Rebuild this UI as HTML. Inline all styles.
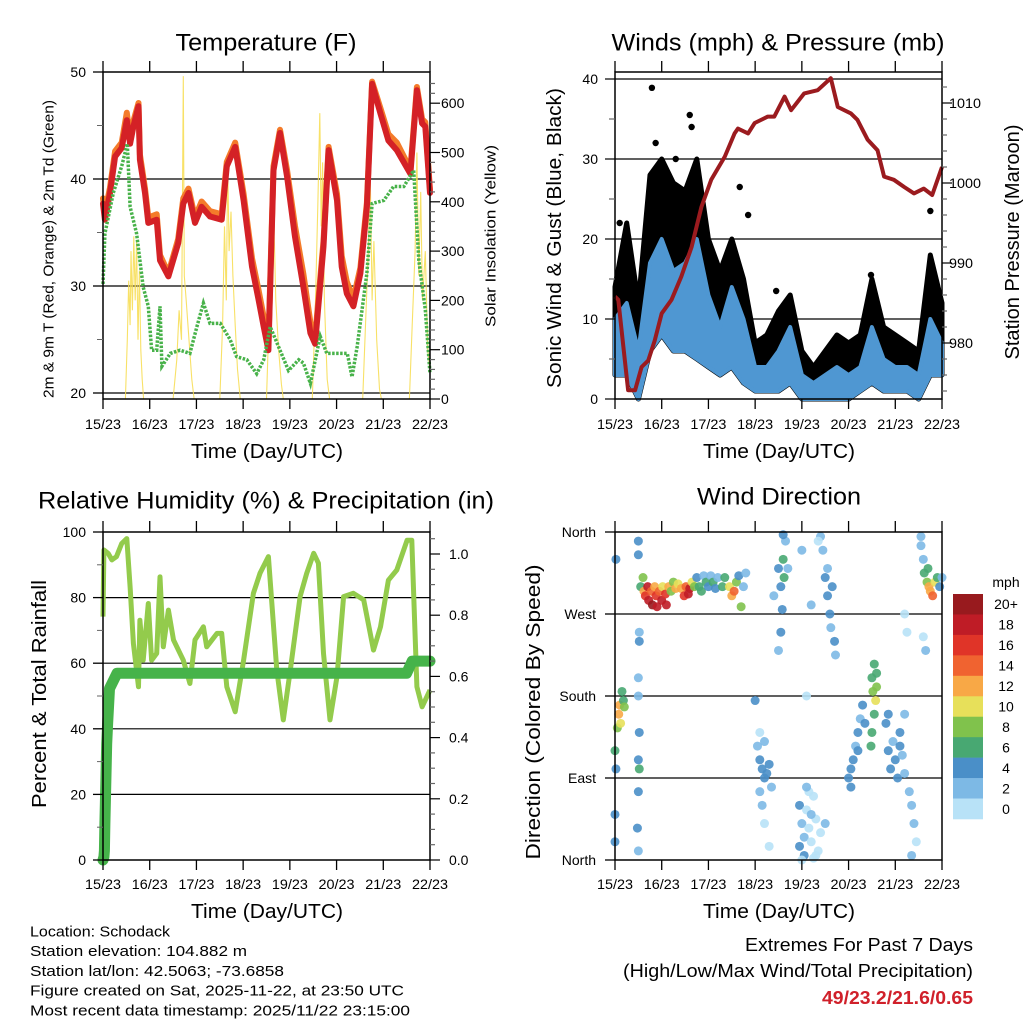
<!DOCTYPE html>
<html><head><meta charset="utf-8"><style>
html,body{margin:0;padding:0;background:#fff}
svg{display:block;font-family:"Liberation Sans",Arial,sans-serif}
</style></head><body>
<svg id="chart" width="1024" height="1024" viewBox="0 0 1024 1024" xmlns="http://www.w3.org/2000/svg"></svg>
<script>
// ---------- DATA ----------
const tempT = [0,.04,.15,.26,.40,.51,.58,.65,.76,.79,.90,.97,1.15,1.22,1.40,1.61,1.72,1.83,1.97,2.11,2.29,2.54,2.65,2.83,3.01,3.19,3.33,3.44,3.54,3.65,3.79,3.94,4.11,4.29,4.44,4.54,4.72,4.83,5.01,5.11,5.22,5.36,5.51,5.65,5.76,5.94,6.11,6.29,6.58,6.72,6.83,6.90,7.0];
const temp2m = [37.7,36.2,38.7,42.1,42.9,45.5,43.3,44.9,46.8,41.8,38.7,35.9,36.2,32.4,30.9,34.0,37.7,38.7,35.9,37.4,36.5,36.2,41.2,43.0,38.0,31.8,28.7,26.2,24.0,40.8,44.3,40.2,34.6,29.9,25.6,24.6,33.7,42.7,38.0,31.8,29.3,28.1,31.2,37.4,48.9,46.1,43.6,42.7,40.5,48.3,45.2,44.9,38.7];
const temp9m = [38.2,36.8,39.2,42.6,43.4,46.2,43.8,45.4,47.1,42.3,39.1,36.4,36.7,32.9,31.2,34.4,38.2,39.1,36.4,37.9,37.0,36.7,41.6,43.4,38.6,32.6,29.6,27.1,24.6,41.2,44.6,40.8,35.6,31.1,26.6,25.2,34.2,43.0,38.6,32.8,30.4,28.8,31.7,37.8,49.1,46.6,44.2,43.4,40.9,48.6,45.6,45.3,39.0];
const tdT = [0,.04,.22,.40,.52,.58,.72,.86,.97,1.04,1.15,1.22,1.26,1.44,1.65,1.86,2.01,2.15,2.29,2.51,2.72,2.86,3.08,3.29,3.44,3.58,3.79,3.97,4.19,4.29,4.44,4.65,4.79,5.01,5.23,5.33,5.44,5.65,5.76,6.01,6.22,6.44,6.65,6.76,6.90,7.0];
const tdVal = [30.2,34.9,38.7,41.2,43.3,37.4,34.9,29.9,28.1,24.0,24.0,28.1,22.5,23.7,24.0,23.7,26.2,28.4,26.5,26.5,25.0,23.4,23.1,21.8,23.1,26.2,24.0,22.1,23.1,22.8,20.9,25.3,23.7,23.7,23.7,21.5,24.3,31.2,37.7,38.0,39.3,39.3,40.8,32.4,27.8,21.8];
const solarT = [0,.48,.52,.55,.58,.60,.63,.66,.69,.72,.75,.78,.81,.84,.87,1.50,1.58,1.63,1.68,1.72,1.74,1.78,1.84,1.90,1.95,2.50,2.56,2.60,2.64,2.67,2.70,2.74,2.78,2.83,2.88,2.94,3.50,3.55,3.59,3.62,3.66,3.70,3.76,3.82,3.86,4.48,4.55,4.60,4.64,4.67,4.70,4.74,4.80,4.85,5.56,5.62,5.68,5.72,5.76,5.80,5.86,5.92,5.96,6.56,6.62,6.68,6.72,6.76,6.80,6.84,6.90,6.95,7.0];
const solarV = [0,0,120,240,150,300,180,330,200,320,120,260,100,40,0,0,80,180,120,655,250,200,120,40,0,0,150,350,200,480,300,380,250,150,60,0,0,150,420,470,350,200,100,30,0,0,200,400,580,350,480,200,40,0,0,150,300,460,200,320,120,20,0,0,150,300,500,250,420,200,300,100,60];
const tempTicks = [20,30,40,50];
const solarTicks = [0,100,200,300,400,500,600];
const dayLabels = ["15/23","16/23","17/23","18/23","19/23","20/23","21/23","22/23"];

const windT = [0,.25,.5,.75,1,1.25,1.5,1.75,2,2.25,2.5,2.75,3,3.25,3.5,3.75,4,4.25,4.5,4.75,5,5.25,5.5,5.75,6,6.25,6.5,6.75,7];
const windHi = [10,12,6,17,20,16,17,20,13,9,14,10,4,4,6,9,3,2,3,4,3,4,9,5,4,4,3,10,7];
const windLo = [3,3,0,6,8,6,6,5,4,3,4,2,1,1,1,2,0,0,0,0,0,1,2,1,1,1,0,3,3];
const gustHi = [14,22,12,28,30,27,26,30,20,16,20,15,7,8,11,13,6,4,6,8,7,8,15,9,8,7,6,18,12];
const gustOutT = [.1,.2,.79,.87,1.09,1.3,1.6,1.64,1.5,2.67,2.85,3.45,5.48,6.75];
const gustOutV = [22,18,38.9,32,28,30,35.5,34,26,26.5,23,13.5,15.5,23.5];
const presT = [0,.07,.18,.28,.43,.57,.71,.85,1.00,1.21,1.42,1.64,1.85,2.06,2.35,2.56,2.63,2.85,2.99,3.27,3.41,3.63,3.77,4.05,4.34,4.62,4.77,5.05,5.19,5.41,5.62,5.76,5.97,6.19,6.40,6.61,6.79,7.0];
const presV = [985.8,985.4,979.5,974.1,974.1,977.0,977.8,980.3,983.7,985.4,988.3,992.0,997.0,1000.4,1003.3,1006.2,1006.8,1006.2,1007.5,1008.3,1008.3,1010.8,1009.1,1011.2,1011.6,1013.1,1009.5,1008.7,1007.9,1005.4,1004.1,1000.8,1000.4,999.5,998.7,999.3,998.5,1002.0];
const windTicks = [0,10,20,30,40];
const presTicks = [980,990,1000,1010];

const rhT = [0,.02,.11,.19,.29,.40,.51,.58,.65,.76,.79,.86,.97,1.04,1.15,1.22,1.29,1.40,1.51,1.72,1.86,1.97,2.15,2.22,2.44,2.54,2.65,2.83,3.01,3.22,3.36,3.54,3.72,3.86,4.01,4.22,4.36,4.51,4.61,4.72,4.86,5.01,5.15,5.36,5.58,5.79,5.94,6.11,6.29,6.51,6.61,6.72,6.83,7.0];
const rhV = [74.2,94.5,93.5,91.5,92.5,96.5,98.0,83.3,66.0,52.8,73.1,60.9,78.2,60.9,63.0,86.3,65.0,76.2,67.1,60.9,53.8,67.1,71.1,65.0,69.1,69.1,52.8,45.2,60.9,81.3,87.4,92.5,57.9,42.7,57.9,80.3,87.4,93.5,90.5,63.0,42.7,55.9,80.3,81.3,79.3,64.0,71.1,85.3,88.4,97.5,97.5,52.8,46.7,51.8];
const prT = [0,.02,.03,.04,.06,.08,.10,.14,.30,6.5,6.62,7.0];
const prV = [0,.01,.03,.12,.25,.38,.45,.56,.61,.61,.65,.65];
const rhTicks = [0,20,40,60,80,100];
const prTicks = ["0.0","0.2","0.4","0.6","0.8","1.0"];

const wdT = [0.55,0.6,0.62,0.65,0.7,0.72,0.78,0.8,0.85,0.88,0.9,0.95,1.0,1.02,1.08,1.1,1.15,1.2,1.25,1.3,1.35,1.42,1.48,1.52,1.57,1.6,1.65,1.7,1.75,1.8,1.85,1.9,1.95,2.0,2.05,2.1,2.15,2.2,2.3,2.35,2.45,2.5,2.55,2.6,2.65,2.75,2.8,2.7,
 0.0,0.02,0.05,0.08,0.1,0.12,0.15,0.18,0.2,0.0,0.02,0.0,
 0.5,0.5,0.52,0.5,0.52,0.5,0.5,0.52,0.48,0.5,0.5,0.52,
 3.05,3.1,3.15,3.2,3.1,3.15,3.2,3.25,3.3,3.35,3.2,3.3,3.0,3.1,
 3.5,3.55,3.6,3.62,3.58,3.55,3.65,3.7,3.4,3.5,3.6,
 3.95,4.0,4.05,4.1,4.15,4.2,4.25,4.3,4.35,4.05,4.15,4.2,4.3,4.4,3.95,4.5,4.1,4.0,4.25,
 4.45,4.5,4.55,4.6,4.62,4.7,4.72,4.4,4.55,4.65,4.2,4.35,4.0,4.1,
 5.0,5.05,5.1,5.15,5.2,5.25,5.3,5.35,5.05,5.2,
 5.5,5.55,5.52,5.58,5.6,5.55,5.5,5.48,5.6,
 5.8,5.85,5.9,5.95,6.0,6.05,6.1,6.15,6.2,5.85,6.1,6.2,
 6.3,6.35,6.4,6.45,6.35,6.2,6.25,
 6.55,6.6,6.62,6.68,6.72,6.75,6.8,6.85,6.9,6.95,7.0,6.7,6.55,6.65,6.6];
const wdDir = [300,310,295,290,300,285,295,280,300,290,278,295,285,300,292,280,300,295,305,298,303,298,290,300,292,298,305,300,310,300,295,312,305,300,312,305,298,310,300,310,300,290,295,305,312,300,315,278,
 120,100,145,160,170,150,185,175,168,50,330,20,
 350,335,240,200,140,110,75,100,35,10,180,250,
 125,110,100,90,75,60,130,95,105,80,40,15,175,140,
 320,300,330,310,275,250,350,320,290,230,357,
 60,40,25,55,35,20,70,45,10,5,75,50,5,30,15,40,80,0,2,
 340,310,290,270,255,240,225,355,320,300,280,350,340,180,
 90,80,110,125,140,155,170,150,100,120,
 200,215,185,175,190,160,140,125,205,
 150,120,100,130,110,90,140,115,95,160,125,160,
 75,60,40,20,5,270,250,
 345,330,315,305,300,295,290,305,310,300,310,320,355,230,245];
const wdSpd = [7,9,12,16,18,19,14,20,12,17,18,15,19,10,17,18,13,9,8,12,10,13,16,14,19,18,10,8,4,6,6,3,6,4,3,6,5,2,6,7,10,12,14,8,4,3,2,8,
 6,4,9,12,12,10,6,7,8,4,4,4,
 4,4,4,3,4,4,4,6,4,3,2,2,
 2,4,5,4,3,2,2,4,4,2,1,1,4,1,
 4,5,6,6,4,4,3,3,2,2,4,
 4,3,2,1,0,1,0,1,1,4,1,3,0,1,4,2,2,1,1,
 3,4,4,4,2,4,3,2,2,5,2,1,2,1,
 5,5,4,3,4,3,4,5,5,5,
 7,6,9,10,8,7,6,7,7,
 5,4,5,3,4,4,5,3,3,4,5,2,
 3,2,2,1,3,1,1,
 2,3,6,8,12,13,14,10,6,4,3,6,2,2,1];
const dirLabels = ["North","East","South","West","North"];
const dirTicks = [0,90,180,270,360];
const speedBinLabels = ["0","2","4","6","8","10","12","14","16","18","20+"];
const speedColors = ["#b8e2f7","#7db9e5","#4a8fc8","#48a872","#80c24c","#e7e05a","#f8a846","#f06330","#e03428","#bf1c26","#981a1e"];

// ---------- DRAW ----------
const NS="http://www.w3.org/2000/svg";
const svg=document.getElementById('chart');
function mk(tag,attrs,parent){const e=document.createElementNS(NS,tag);for(const k in attrs)e.setAttribute(k,attrs[k]);(parent||svg).appendChild(e);return e;}
function txt(s,x,y,size,anchor,parent,extra){const e=mk('text',Object.assign({x:x,y:y,'font-size':size,'text-anchor':anchor||'start','dominant-baseline':'central',fill:'#000'},extra||{}),parent);e.textContent=s;return e;}
function path(xs,ys){return xs.map((x,i)=>(i?'L':'M')+x.toFixed(1)+','+ys[i].toFixed(1)).join('');}

const W=327/7;
const P1={x0:103,x1:430,y0:72,y1:399}, P2={x0:615,x1:942,y0:72,y1:399}, P3={x0:103,x1:430,y0:532,y1:860}, P4={x0:615,x1:942,y0:532,y1:860};
const x1=t=>P1.x0+t*W, x2=t=>P2.x0+t*W, x3=t=>P3.x0+t*W, x4=t=>P4.x0+t*W;
const yT=v=>393-(v-20)*10.7, ySol=v=>399-v*0.493;
const yW=v=>399-v*8, yP=v=>343-(v-980)*8;
const yRH=v=>860-v*3.28, yPr=v=>860-v*306;
const yD=v=>860-v*328/360;

function xAxis(P,g,xf,lblY){
  for(let d=0;d<=7;d++){
    const x=xf(d);
    mk('line',{x1:x,y1:P.y0-11,x2:x,y2:P.y0,stroke:'#000','stroke-width':1.3},g);
    mk('line',{x1:x,y1:P.y1,x2:x,y2:P.y1+10,stroke:'#000','stroke-width':1.3},g);
    const l=txt(dayLabels[d],x,lblY,14,'middle',g,{textLength:36,lengthAdjust:'spacingAndGlyphs'});
    
    
  }
}
function boxRect(P,g){
  const r=mk('rect',{x:P.x0,y:P.y0,width:P.x1-P.x0,height:P.y1-P.y0,fill:'none',stroke:'#000','stroke-width':1.5},g);
  
  
}
function hgrid(P,g,y){mk('line',{x1:P.x0,y1:y,x2:P.x1,y2:y,stroke:'#000','stroke-width':1.2},g);}

// ===== Panel 1 =====
const g1=mk('g',{});


tempTicks.forEach(v=>{ if(v<50) hgrid(P1,g1,yT(v)); });
const sol=mk('path',{d:path(solarT.map(x1),solarV.map(ySol)),fill:'none',stroke:'#f7dc4c','stroke-width':1.1,opacity:0.85},g1);


const o9=mk('path',{d:path(tempT.map(x1),temp9m.map(yT)),fill:'none',stroke:'#f47b2a','stroke-width':6,'stroke-linejoin':'round','stroke-linecap':'round'},g1);


const r2=mk('path',{d:path(tempT.map(x1),temp2m.map(yT)),fill:'none',stroke:'#d42126','stroke-width':6,'stroke-linejoin':'round','stroke-linecap':'round'},g1);


const td=mk('path',{d:path(tdT.map(x1),tdVal.map(yT)),fill:'none',stroke:'#48b24a','stroke-width':3.5,'stroke-dasharray':'2.5 1.5'},g1);


boxRect(P1,g1);
tempTicks.forEach(v=>{const y=yT(v);mk('line',{x1:P1.x0-10,y1:y,x2:P1.x0,y2:y,stroke:'#000','stroke-width':1.3},g1);
  const l=txt(String(v),86,y,14,'end',g1);});
[25,35,45].forEach(v=>{const y=yT(v);mk('line',{x1:P1.x0-6,y1:y,x2:P1.x0,y2:y,stroke:'#666','stroke-width':1},g1);});
for(let s=0;s<=640;s+=20){const y=ySol(s);const maj=s%100===0;mk('line',{x1:P1.x1,y1:y,x2:P1.x1+(maj?10:5),y2:y,stroke:maj?'#000':'#666','stroke-width':1.2},g1);}
solarTicks.forEach(v=>{const l=txt(String(v),441,ySol(v),14,'start',g1);});
xAxis(P1,g1,x1,424);
let t;
t=txt('Temperature (F)',266,43,24,'middle',g1,{textLength:181,lengthAdjust:'spacingAndGlyphs'});
t=txt('Time (Day/UTC)',267,452,20,'middle',g1,{textLength:152,lengthAdjust:'spacingAndGlyphs'});
t=txt('2m & 9m T (Red, Orange) & 2m Td (Green)',0,0,15,'middle',g1,{transform:'translate(49,249) rotate(-90)',textLength:298,lengthAdjust:'spacingAndGlyphs'});
t=txt('Solar Insolation (Yellow)',0,0,15,'middle',g1,{transform:'translate(491,236) rotate(-90)',textLength:182,lengthAdjust:'spacingAndGlyphs'});

// ===== Panel 2 =====
const g2=mk('g',{});


windTicks.forEach(v=>{ if(v>0) hgrid(P2,g2,yW(v)); });
const gx=windT.map(x2);
const gustPoly=path(gx.concat(gx.slice().reverse()),gustHi.map(yW).concat(windLo.map(yW).reverse()))+'Z';
const gb=mk('path',{d:gustPoly,fill:'#000',stroke:'#000','stroke-width':5,'stroke-linejoin':'round'},g2);


gustOutT.forEach((tt,i)=>{const c=mk('circle',{cx:x2(tt),cy:yW(gustOutV[i]),r:3.2,fill:'#000'},g2);
  
  });
const bandPoly=path(gx.concat(gx.slice().reverse()),windHi.map(yW).concat(windLo.map(yW).reverse()))+'Z';
const bb=mk('path',{d:bandPoly,fill:'#4f97d2',stroke:'#4f97d2','stroke-width':4,'stroke-linejoin':'round'},g2);


const pl=mk('path',{d:path(presT.map(x2),presV.map(yP)),fill:'none',stroke:'#9b1b1f','stroke-width':4,'stroke-linejoin':'round'},g2);


boxRect(P2,g2);
for(let w=0;w<=40;w+=5){const y=yW(w);const maj=w%10===0;mk('line',{x1:P2.x0-(maj?10:6),y1:y,x2:P2.x0,y2:y,stroke:maj?'#000':'#666','stroke-width':1.2},g2);}
windTicks.forEach(v=>{const l=txt(String(v),598,yW(v),14,'end',g2);});
for(let p=974;p<=1013;p+=2){const y=yP(p);const maj=p%10===0;mk('line',{x1:P2.x1,y1:y,x2:P2.x1+(maj?10:5),y2:y,stroke:maj?'#000':'#666','stroke-width':1.2},g2);}
presTicks.forEach(v=>{const l=txt(String(v),949,yP(v),14,'start',g2,{textLength:v>=1000?32:24,lengthAdjust:'spacingAndGlyphs'});});
xAxis(P2,g2,x2,424);
t=txt('Winds (mph) & Pressure (mb)',778,43,24,'middle',g2,{textLength:333,lengthAdjust:'spacingAndGlyphs'});
t=txt('Time (Day/UTC)',779,452,20,'middle',g2,{textLength:152,lengthAdjust:'spacingAndGlyphs'});
t=txt('Sonic Wind & Gust (Blue, Black)',0,0,20,'middle',g2,{transform:'translate(555,238) rotate(-90)',textLength:300,lengthAdjust:'spacingAndGlyphs'});
t=txt('Station Pressure (Maroon)',0,0,20,'middle',g2,{transform:'translate(1013,242) rotate(-90)',textLength:235,lengthAdjust:'spacingAndGlyphs'});

// ===== Panel 3 =====
const g3=mk('g',{});


rhTicks.forEach(v=>{ if(v>0&&v<100) hgrid(P3,g3,yRH(v)); });
const rl=mk('path',{d:path(rhT.map(x3),rhV.map(yRH)),fill:'none',stroke:'#93cb4c','stroke-width':5,'stroke-linejoin':'round'},g3);


const prl=mk('path',{d:path(prT.map(x3),prV.map(yPr)),fill:'none',stroke:'#46b34a','stroke-width':11,'stroke-linejoin':'round','stroke-linecap':'round'},g3);


boxRect(P3,g3);
rhTicks.forEach(v=>{const y=yRH(v);mk('line',{x1:P3.x0-10,y1:y,x2:P3.x0,y2:y,stroke:'#000','stroke-width':1.3},g3);
  const l=txt(String(v),86,y,14,'end',g3);});
[10,30,50,70,90].forEach(v=>{const y=yRH(v);mk('line',{x1:P3.x0-6,y1:y,x2:P3.x0,y2:y,stroke:'#666','stroke-width':1},g3);});
for(let i=0;i<=21;i++){const p=i*0.05;const y=yPr(p);const maj=i%4===0;mk('line',{x1:P3.x1,y1:y,x2:P3.x1+(maj?10:5),y2:y,stroke:maj?'#000':'#666','stroke-width':1.2},g3);}
prTicks.forEach(s=>{const l=txt(s,449,yPr(parseFloat(s)),14,'start',g3);});
xAxis(P3,g3,x3,884);
t=txt('Relative Humidity (%) & Precipitation (in)',266,501,24,'middle',g3,{textLength:456,lengthAdjust:'spacingAndGlyphs'});
t=txt('Time (Day/UTC)',267,912,20,'middle',g3,{textLength:152,lengthAdjust:'spacingAndGlyphs'});
t=txt('Percent & Total Rainfall',0,0,20,'middle',g3,{transform:'translate(40,694) rotate(-90)',textLength:228,lengthAdjust:'spacingAndGlyphs'});

// ===== Panel 4 =====
const g4=mk('g',{});


[90,180,270].forEach(v=>hgrid(P4,g4,yD(v)));
wdT.forEach((tt,i)=>{
  const bin=Math.max(0,Math.min(10,Math.floor(wdSpd[i]/2)));
  const c=mk('circle',{cx:x4(tt),cy:yD(wdDir[i]),r:4.5,fill:speedColors[bin],opacity:0.9},g4);
  
  
});
boxRect(P4,g4);
dirTicks.forEach((v,i)=>{const y=yD(v);mk('line',{x1:P4.x0-10,y1:y,x2:P4.x0,y2:y,stroke:'#000','stroke-width':1.3},g4);
  const l=txt(dirLabels[i],596,y,14,'end',g4);});
xAxis(P4,g4,x4,884);
t=txt('Wind Direction',779,497,24,'middle',g4,{textLength:164,lengthAdjust:'spacingAndGlyphs'});
t=txt('Time (Day/UTC)',779,912,20,'middle',g4,{textLength:152,lengthAdjust:'spacingAndGlyphs'});
t=txt('Direction (Colored By Speed)',0,0,20,'middle',g4,{transform:'translate(534,712) rotate(-90)',textLength:295,lengthAdjust:'spacingAndGlyphs'});
const cb=mk('g',{});


const cbH=225/11;
speedColors.forEach((c,i)=>{const k=10-i;const y=594+i*cbH;
  const r=mk('rect',{x:953,y:y,width:30,height:cbH+0.3,fill:speedColors[k]},cb);
  
  
  const l=txt(speedBinLabels[k],1006,y+cbH/2,14,'middle',cb);
  
  
});
t=txt('mph',1006,582,14,'middle',cb);

// ===== Footer =====
const foot=[["Location: Schodack",140],["Station elevation: 104.882 m",217],["Station lat/lon: 42.5063; -73.6858",254],["Figure created on Sat, 2025-11-22, at 23:50 UTC",374],["Most recent data timestamp: 2025/11/22 23:15:00",380]];
foot.forEach((f,i)=>{const l=txt(f[0],30,932+i*19.7,15,'start',svg,{textLength:f[1],lengthAdjust:'spacingAndGlyphs'});
  
  });
t=txt('Extremes For Past 7 Days',973,945,18,'end',svg,{textLength:228,lengthAdjust:'spacingAndGlyphs'});
t=txt('(High/Low/Max Wind/Total Precipitation)',973,971,18,'end',svg,{textLength:350,lengthAdjust:'spacingAndGlyphs'});
t=txt('49/23.2/21.6/0.65',973,998,18,'end',svg,{textLength:151,lengthAdjust:'spacingAndGlyphs',fill:'#d0202a','font-weight':'bold'});
</script>
</body></html>
